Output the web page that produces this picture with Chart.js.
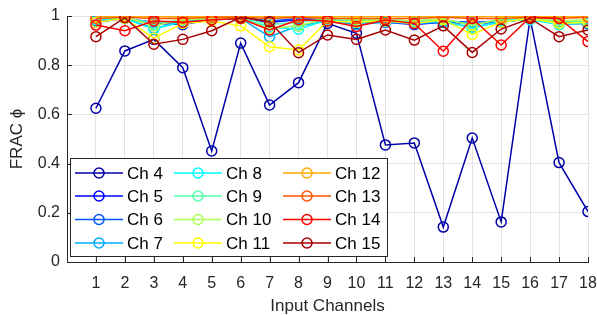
<!DOCTYPE html>
<html>
<head>
<meta charset="utf-8">
<script src="https://cdn.jsdelivr.net/npm/chart.js@4.4.1/dist/chart.umd.min.js"></script>
<style>
  html, body { margin: 0; padding: 0; background: #fff; }
  #wrap { width: 597px; height: 315px; }
</style>
</head>
<body>
<div id="wrap"><canvas id="fracChart"></canvas></div>
<script>
const channels = [1, 2, 3, 4, 5, 6, 7, 8, 9, 10, 11, 12, 13, 14, 15, 16, 17, 18];
const seriesNames = ['Ch 4', 'Ch 5', 'Ch 6', 'Ch 7', 'Ch 8', 'Ch 9', 'Ch 10', 'Ch 11', 'Ch 12', 'Ch 13', 'Ch 14', 'Ch 15'];
const seriesColors = ['#0000aa', '#0000ff', '#0055ff', '#00aaff', '#00ffff', '#55ffaa', '#aaff55', '#ffff00', '#ffaa00', '#ff5500', '#ff0000', '#aa0000'];

const ch4  = [0.625, 0.858, 0.905, 0.790, 0.451, 0.890, 0.638, 0.729, 0.970, 0.930, 0.476, 0.484, 0.142, 0.504, 0.163, 0.990, 0.404, 0.205];
const ch5  = [0.975, 0.990, 0.970, 0.965, 0.985, 0.990, 0.975, 0.985, 0.980, 0.975, 0.975, 0.965, 0.975, 0.970, 0.975, 0.990, 0.975, 0.968];
const ch6  = [0.980, 0.990, 0.975, 0.975, 0.990, 0.995, 0.980, 0.990, 0.985, 0.980, 0.980, 0.975, 0.980, 0.975, 0.980, 0.995, 0.980, 0.975];
const ch7  = [0.985, 0.990, 0.950, 0.975, 0.985, 0.990, 0.916, 0.960, 0.980, 0.965, 0.975, 0.970, 0.975, 0.955, 0.975, 0.990, 0.965, 0.970];
const ch8  = [0.985, 0.990, 0.946, 0.980, 0.990, 0.990, 0.955, 0.946, 0.985, 0.975, 0.980, 0.975, 0.980, 0.950, 0.980, 0.985, 0.965, 0.975];
const ch9  = [0.990, 0.995, 0.970, 0.985, 0.990, 0.995, 0.965, 0.975, 0.990, 0.980, 0.985, 0.980, 0.985, 0.965, 0.985, 0.990, 0.975, 0.980];
const ch10 = [0.990, 0.995, 0.960, 0.985, 0.990, 0.990, 0.950, 0.960, 0.990, 0.985, 0.985, 0.980, 0.990, 0.960, 0.990, 0.995, 0.980, 0.985];
const ch11 = [0.975, 0.990, 0.910, 0.970, 0.980, 0.960, 0.875, 0.862, 0.980, 0.975, 0.980, 0.970, 0.985, 0.925, 0.975, 0.990, 0.970, 0.975];
const ch12 = [0.998, 1.000, 0.997, 0.997, 0.998, 1.000, 0.997, 0.998, 0.997, 0.997, 0.998, 0.997, 0.998, 0.997, 0.998, 1.000, 0.997, 0.998];
const ch13 = [0.990, 0.995, 0.990, 0.990, 0.995, 0.995, 0.990, 0.995, 0.990, 0.990, 0.990, 0.990, 0.995, 0.990, 0.990, 0.995, 0.990, 0.995];
const ch14 = [0.963, 0.940, 0.980, 0.975, 0.985, 0.990, 0.943, 0.985, 0.980, 0.957, 0.984, 0.970, 0.857, 0.990, 0.882, 0.995, 0.990, 0.896];
const ch15 = [0.916, 0.993, 0.885, 0.905, 0.940, 0.995, 0.977, 0.851, 0.923, 0.905, 0.943, 0.902, 0.960, 0.852, 0.947, 0.990, 0.916, 0.943];

const allSeries = [ch4, ch5, ch6, ch7, ch8, ch9, ch10, ch11, ch12, ch13, ch14, ch15];
const yTicks = [0, 0.2, 0.4, 0.6, 0.8, 1];

const axisColor = '#262626';
const fontFamily = '"Liberation Sans", Arial, Helvetica, sans-serif';

// MATLAB style ticks pointing into the axes
const inwardTicks = {
    id: 'inwardTicks',
    afterDraw(chart) {
        const { ctx, chartArea, scales } = chart;
        ctx.save();
        ctx.strokeStyle = axisColor;
        ctx.lineWidth = 1;
        ctx.beginPath();
        channels.forEach(c => {
            const x = Math.round(scales.x.getPixelForValue(c)) + 0.5;
            ctx.moveTo(x, chartArea.bottom);
            ctx.lineTo(x, chartArea.bottom - 5);
        });
        yTicks.forEach(v => {
            const y = Math.round(scales.y.getPixelForValue(v)) + 0.5;
            ctx.moveTo(chartArea.left, y);
            ctx.lineTo(chartArea.left + 5, y);
        });
        ctx.stroke();
        ctx.restore();
    }
};

// legend box inside the axes, 3 columns filled top to bottom
const boxLegend = {
    id: 'boxLegend',
    afterDraw(chart) {
        const { ctx } = chart;
        const box = { x: 70.5, y: 158.5, w: 317, h: 98 };
        const colX = [75, 174, 283];
        const rowY = [173, 196, 219.5, 243];
        ctx.save();
        ctx.fillStyle = '#fff';
        ctx.fillRect(box.x, box.y, box.w, box.h);
        ctx.strokeStyle = axisColor;
        ctx.lineWidth = 1;
        ctx.strokeRect(box.x, box.y, box.w, box.h);
        ctx.font = '17px ' + fontFamily;
        ctx.textBaseline = 'middle';
        chart.data.datasets.forEach((ds, i) => {
            const col = Math.floor(i / 4);
            const row = i % 4;
            const x0 = colX[col];
            const y = rowY[row];
            ctx.strokeStyle = ds.borderColor;
            ctx.lineWidth = 1.5;
            ctx.beginPath();
            ctx.moveTo(x0, y);
            ctx.lineTo(x0 + 48, y);
            ctx.stroke();
            ctx.beginPath();
            ctx.arc(x0 + 24, y, 5, 0, Math.PI * 2);
            ctx.stroke();
            ctx.fillStyle = '#000';
            ctx.fillText(ds.label, x0 + 52, y + 1);
        });
        ctx.restore();
    }
};

const datasets = allSeries.map((vals, i) => ({
    label: seriesNames[i],
    data: vals.map((v, j) => ({ x: channels[j], y: v })),
    borderColor: seriesColors[i],
    backgroundColor: 'rgba(0,0,0,0)',
    pointBackgroundColor: 'rgba(0,0,0,0)',
    pointBorderColor: seriesColors[i],
    borderWidth: 1.5,
    pointRadius: 5,
    pointBorderWidth: 1.5,
    order: allSeries.length - i
}));

const ctx = document.getElementById('fracChart');

new Chart(ctx, {
    type: 'line',
    data: { datasets },
    options: {
        responsive: true,
        maintainAspectRatio: false,
        animation: false,
        layout: { padding: { top: 16, right: 9, left: 0, bottom: 0 } },
        plugins: {
            legend: { display: false },
            tooltip: { enabled: false }
        },
        scales: {
            x: {
                type: 'linear',
                min: 0,
                max: 18,
                afterFit: s => { s.height = 53; s.paddingLeft = 0; s.paddingRight = 0; },
                afterBuildTicks: s => { s.ticks = channels.map(v => ({ value: v })); },
                ticks: {
                    stepSize: 1,
                    autoSkip: false,
                    maxRotation: 0,
                    padding: 12,
                    color: axisColor,
                    font: { family: fontFamily, size: 16 }
                },
                grid: { color: '#e3e3e3', drawTicks: false },
                border: { display: true, color: axisColor, width: 1 },
                title: {
                    display: true,
                    text: 'Input Channels',
                    color: axisColor,
                    padding: 0,
                    font: { family: fontFamily, size: 17, lineHeight: 1 }
                }
            },
            y: {
                min: 0,
                max: 1,
                afterFit: s => { s.width = 67; s.paddingTop = 0; s.paddingBottom = 0; },
                ticks: {
                    stepSize: 0.2,
                    padding: 7,
                    color: axisColor,
                    font: { family: fontFamily, size: 16 },
                    callback: v => String(Number(v.toFixed(1)))
                },
                grid: { color: '#e3e3e3', drawTicks: false },
                border: { display: true, color: axisColor, width: 1 },
                title: {
                    display: true,
                    text: 'FRAC \u03D5',
                    color: axisColor,
                    padding: { top: 9, bottom: 0 },
                    font: { family: fontFamily, size: 17, lineHeight: 1 }
                }
            }
        }
    },
    plugins: [inwardTicks, boxLegend]
});
</script>
</body>
</html>
